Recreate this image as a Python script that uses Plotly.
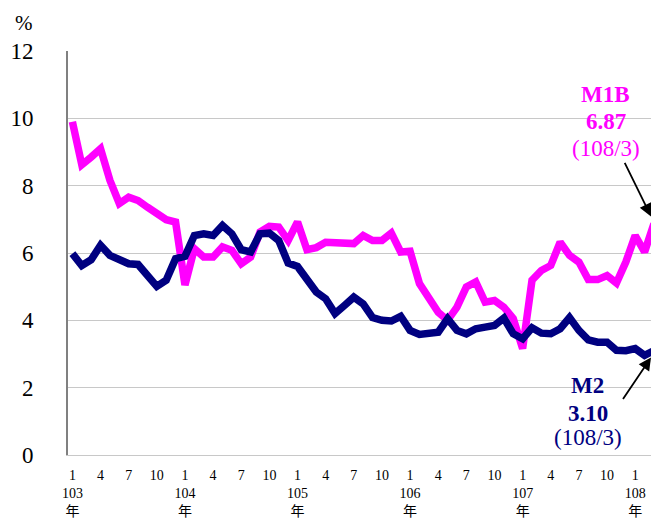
import plotly.graph_objects as go

# Monthly annual growth rates (%), 103/1 through 108/3 (ROC calendar)
years = [103, 104, 105, 106, 107, 108]
m1b = [
    9.90, 8.62, 8.85, 9.10, 8.16, 7.47, 7.66, 7.56, 7.36, 7.17, 6.99, 6.92,   # 103
    5.05, 6.13, 5.88, 5.88, 6.18, 6.08, 5.68, 5.88, 6.62, 6.79, 6.77, 6.37,   # 104
    6.92, 6.10, 6.16, 6.32, 6.32, 6.28, 6.28, 6.52, 6.37, 6.37, 6.59, 6.03,   # 105
    6.05, 5.09, 4.62, 4.24, 4.00, 4.39, 4.99, 5.14, 4.54, 4.59, 4.39, 4.05,   # 106
    3.16, 5.19, 5.48, 5.63, 6.32, 5.93, 5.73, 5.21, 5.21, 5.33, 5.11, 5.73,   # 107
    6.52, 6.03, 6.87,                                                         # 108
]
m2 = [
    5.98, 5.63, 5.80, 6.23, 5.93, 5.78, 5.68, 5.66, 5.33, 5.01, 5.19, 5.83,   # 103
    5.90, 6.52, 6.57, 6.52, 6.82, 6.57, 6.10, 6.03, 6.57, 6.59, 6.37, 5.70,   # 104
    5.60, 5.19, 4.84, 4.64, 4.20, 4.44, 4.69, 4.49, 4.08, 4.00, 3.98, 4.12,   # 105
    3.70, 3.58, 3.64, 3.65, 4.05, 3.70, 3.60, 3.75, 3.80, 3.85, 4.07, 3.60,   # 106
    3.45, 3.78, 3.62, 3.60, 3.75, 4.08, 3.70, 3.42, 3.35, 3.35, 3.11, 3.10,   # 107
    3.16, 2.96, 3.10,                                                         # 108
]
y_ticks = [0, 2, 4, 6, 8, 10, 12]

idx = list(range(len(m1b)))

# Category tick labels: months 1, 4, 7, 10; January also carries the year
tick_vals, tick_text = [], []
for i in idx:
    month = i % 12 + 1
    if month in (1, 4, 7, 10):
        tick_vals.append(i)
        if month == 1:
            tick_text.append(f"{month}<br>{years[i // 12]}<br>年")
        else:
            tick_text.append(str(month))

MAGENTA = "#FF00FF"
NAVY = "#000080"
SERIF = "Liberation Serif, Times New Roman, Noto Sans CJK TC, serif"

fig = go.Figure()
fig.add_trace(go.Scatter(x=idx, y=m1b, mode="lines", name="M1B",
                         line=dict(color=MAGENTA, width=7.5)))
fig.add_trace(go.Scatter(x=idx, y=m2, mode="lines", name="M2",
                         line=dict(color=NAVY, width=7.5)))

# Pixel <-> data conversion for the plot area (left 68, right 651, top 51, bottom 455)
PX_PER_MONTH = 9.375
X0_PX = 72.7
Y0_PX = 454.5
PX_PER_UNIT = 33.65


def dx(px):
    return (px - X0_PX) / PX_PER_MONTH


def dy(py):
    return (Y0_PX - py) / PX_PER_UNIT


def label(text, px, py, color, bold=False):
    return dict(x=dx(px), y=dy(py), xref="x", yref="y", showarrow=False,
                text=f"<b>{text}</b>" if bold else text,
                font=dict(family=SERIF, size=23, color=color),
                xanchor="center", yanchor="middle")


def arrow(px, py, ax, ay):
    return dict(x=dx(px), y=dy(py), xref="x", yref="y", text="",
                showarrow=True, ax=ax, ay=ay, arrowhead=2, arrowsize=1.4,
                arrowwidth=1.8, arrowcolor="black", standoff=0)


annotations = [
    label("M1B", 606, 94, MAGENTA, bold=True),
    label(f"{m1b[-1]:.2f}", 606, 121, MAGENTA, bold=True),
    label("(108/3)", 606, 148, MAGENTA),
    label("M2", 588, 385, NAVY, bold=True),
    label(f"{m2[-1]:.2f}", 588, 413, NAVY, bold=True),
    label("(108/3)", 588, 437, NAVY),
    arrow(651, 216, -27, -55),
    arrow(651, 357, -29, 43),
    # unit label above the value axis
    dict(x=(24 - 68) / 583, y=(455 - 23) / 404, xref="paper", yref="paper",
         text="%", showarrow=False, xanchor="center", yanchor="middle",
         font=dict(family=SERIF, size=21, color="black")),
]

fig.update_layout(
    width=651, height=518,
    margin=dict(l=68, r=0, t=51, b=63),
    paper_bgcolor="white", plot_bgcolor="white",
    showlegend=False,
    annotations=annotations,
    font=dict(family=SERIF, color="black"),
)
fig.update_xaxes(
    range=[dx(68.3), dx(651)],
    tickmode="array", tickvals=tick_vals, ticktext=tick_text,
    tickfont=dict(family=SERIF, size=14, color="black"),
    showgrid=False, zeroline=False,
    showline=True, linecolor="#c8c8c8", linewidth=1,
    ticks="", ticklabelstandoff=7,
)
fig.update_yaxes(
    range=[0, 12], tickmode="array", tickvals=y_ticks,
    tickfont=dict(family=SERIF, size=23, color="black"),
    showgrid=True, gridcolor="#c8c8c8", gridwidth=1,
    zeroline=False,
    showline=True, linecolor="#808080", linewidth=2,
    ticks="", ticklabelstandoff=28,
)

fig.write_html("out.html")
